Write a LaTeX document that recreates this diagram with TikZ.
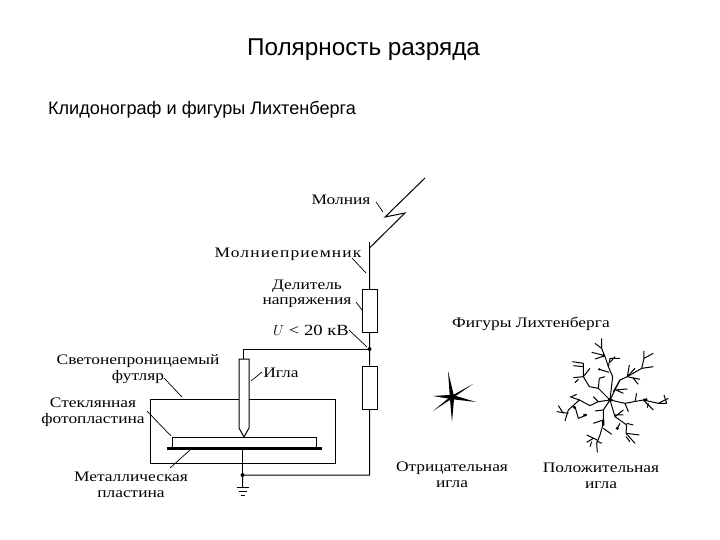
\documentclass[tikz,border=0pt]{standalone}
\usepackage{fontspec}
\setmainfont{Liberation Sans}
\newfontfamily\labelfont[FakeStretch=1.2]{Liberation Serif}
\usetikzlibrary{positioning}
\tikzset{
	lbl/.style={font=\labelfont\fontsize{14.5}{15.5}\selectfont, align=center, inner sep=1pt, yshift=-1pt},
	res/.style={draw, line width=1pt, rectangle, minimum width=15pt, minimum height=43pt, inner sep=0pt, fill=white},
	dot/.style={circle, fill, inner sep=0pt, minimum size=4pt},
	leader/.style={line width=0.7pt},
	wire/.style={line width=1pt},
	twig/.style={line width=1pt, line join=round}
}

\begin{document}
\begin{tikzpicture}[x=1pt, y=-1pt]
	\useasboundingbox (0,0) rectangle (720,540);

	\path (363.5,49.5) node[font=\fontsize{24.3}{26}\selectfont, inner sep=0pt] (title){Полярность разряда}
	(202,110) node[font=\fontsize{18.1}{20}\selectfont, inner sep=0pt] (subtitle){Клидонограф и фигуры Лихтенберга};

	\path (341,199) node[lbl] (lMolnia){Молния}
	(288,253) node[lbl, font=\labelfont\fontsize{14.5}{15.5}\selectfont\addfontfeature{LetterSpace=8}] (lRod){Молниеприемник}
	(307,293) node[lbl] (lDiv){Делитель\\напряжения}
	(311,329) node[lbl, font=\labelfont\fontsize{15.5}{16}\selectfont] (lU){$U$ < 20 кВ}
	(138,368) node[lbl] (lCase){Светонепроницаемый\\футляр}
	(93,411) node[lbl] (lGlass){Стеклянная\\фотопластина}
	(131,484) node[lbl] (lMetal){Металлическая\\пластина}
	(281,372) node[lbl] (lNeedle){Игла}
	(531,323) node[lbl] (lFig){Фигуры Лихтенберга}
	(452,474) node[lbl] (lNeg){Отрицательная\\игла}
	(601,475) node[lbl] (lPos){Положительная\\игла};

	% circuit
	\path (369.5,248) coordinate (top)
	(369.5,349) coordinate (j1)
	(243.5,349) coordinate (jn)
	(242.5,475) coordinate (j2)
	(369.5,475) coordinate (j3)
	(242.5,448) coordinate (plate)
	(242.5,487) coordinate (gnd)
	(425,178) coordinate (b1)
	(385,217) coordinate (b2)
	(405,213) coordinate (b3)
	(369.5,311) node[res] (r1){}
	(369.5,387.5) node[res] (r2){};

	\draw[wire] (b1) -- (b2) -- (b3) -- (top) -- (r1) -- (j1) -- (r2) -- (j3) -- (j2) -- (gnd);
	\draw[wire] (top) -- ++(0,-6);
	\draw[wire] (j1) -- (jn) -- ++(0,10);
	\path (j1) node[dot] (d1){} (j2) node[dot] (d2){};

	% ground
	\draw[wire] (gnd) ++(-6,0) -- ++(12,0) ++(-10,4) -- ++(8,0) ++(-6,4) -- ++(4,0);

	% case, plates and needle
	\path (150,399) coordinate (c1) (335,463) coordinate (c2)
	(172,437) coordinate (g1) (316,447) coordinate (g2)
	(167,448) coordinate (m1) (322,448) coordinate (m2);
	\draw[wire] (c1) rectangle (c2);
	\draw[wire, fill=white] (g1) rectangle (g2);
	\draw[line width=3pt] (m1) -- (m2);
	\draw[wire] (plate) -- (j2);
	\draw[wire, fill=white] (239,359) -- (249,359) -- (249,428) -- (244,437) -- (239,428) -- cycle;

	% leader lines
	\path (383,212) coordinate (tMolnia) (366,273) coordinate (tRod) (362,310) coordinate (tDiv)
	(367,347) coordinate (tU) (182,397) coordinate (tCase) (171,436) coordinate (tGlass)
	(190,450) coordinate (tMetal) (251,381) coordinate (tNeedle);
	\draw[leader] (376,202) -- (tMolnia);
	\draw[leader] (352,258) -- (tRod);
	\draw[leader] (356,302) -- (tDiv);
	\draw[leader] (349,330) -- (tU);
	\draw[leader] (164,378) -- (tCase);
	\draw[leader] (147,411) -- (tGlass);
	\draw[leader] (170,468) -- (tMetal);
	\draw[leader] (262,372) -- (tNeedle);

	% negative figure
	\foreach \tipx/\tipy/\nx/\ny in {448/371/2.2/0, 452/422/2.2/0, 476/402/0/2.2, 473/384/0.4/1.2, 433/396/0/2.2, 433/411/0.8/1}
		\fill (452-\nx,397-\ny) -- (\tipx,\tipy) -- (452+\nx,397+\ny) -- cycle;

	% positive figure
	\begin{scope}[shift={(540,335)}, x=0.3333pt, y=-0.3333pt, twig]
		\coordinate (c) at (210,195);
		\draw (c) -- (218,125) -- (205,95) -- (195,65) -- (185,40) -- (185,10);
		\draw (185,40) -- (165,25) (195,62) -- (155,52) (195,62) -- (165,72);
		\draw (205,95) -- (210,70) -- (240,70) (210,82) -- (225,65) (207,112) -- (178,103);
		\draw (c) -- (175,160) -- (148,155) -- (130,125) -- (130,85) -- (97,80);
		\draw (130,95) -- (100,92) (130,125) -- (100,128) (130,125) -- (150,100) (115,133) -- (105,143);
		\draw (175,160) -- (178,130) -- (195,125);
		\draw (c) -- (240,135) -- (262,125) -- (305,100) -- (312,70) -- (312,48);
		\draw (312,70) -- (340,55) (305,100) -- (340,95) (262,125) -- (268,90) (262,125) -- (285,100);
		\draw (262,125) -- (300,133) (280,130) -- (295,148);
		\draw (225,165) -- (262,162) (240,135) -- (220,170) (228,165) -- (250,175);
		\draw (c) -- (255,205) -- (310,195) -- (355,205) -- (380,205);
		\draw (380,205) -- (372,180) (355,205) -- (385,190) (310,195) -- (340,225);
		\draw (285,200) -- (290,175) (255,205) -- (265,230) (325,205) -- (322,218);
		\draw (c) -- (175,200) -- (150,212) -- (118,195) -- (85,225) -- (75,258);
		\draw (118,195) -- (90,185) (105,215) -- (115,250) -- (140,240) (85,235) -- (50,230);
		\draw (70,235) -- (55,212) (175,200) -- (160,185) (95,185) -- (110,178);
		\draw (c) -- (190,225) -- (190,265) -- (180,300) -- (170,325) -- (172,352);
		\draw (190,225) -- (165,228) (190,255) -- (160,265) (190,280) -- (215,298);
		\draw (172,315) -- (140,300) (160,310) -- (140,322) (170,318) -- (185,325) (155,320) -- (150,335);
		\draw (c) -- (225,245) -- (260,270) -- (258,295) -- (298,300);
		\draw (258,295) -- (285,325) (258,305) -- (270,320) (260,265) -- (280,270);
		\draw (225,245) -- (250,225) (225,240) -- (250,240) (240,265) -- (232,280);
		\draw[line width=2.2pt] (c) ++(-5,-3) -- ++(12,4) (190,255) -- (190,272) (310,195) -- (322,193) (130,240) -- (140,240);
		\fill (190,62) circle (5) (103,217) circle (5) (232,280) circle (5) (178,103) circle (4) (116,195) circle (4);
	\end{scope}
\end{tikzpicture}
\end{document}
